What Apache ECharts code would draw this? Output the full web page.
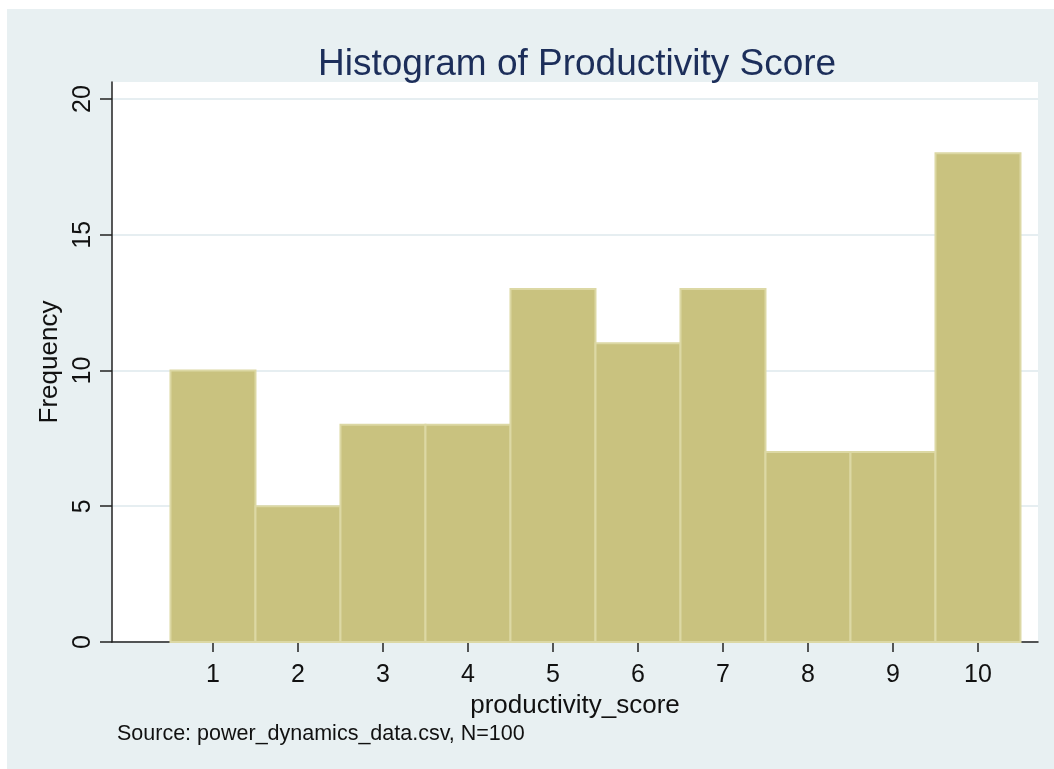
<!DOCTYPE html>
<html>
<head>
<meta charset="utf-8">
<script src="https://cdn.jsdelivr.net/npm/echarts@6/dist/echarts.min.js"></script>
<style>
  body { margin: 0; background: #ffffff; }
  #chart { position: absolute; left: 7px; top: 9px; width: 1047px; height: 760px; }
</style>
</head>
<body>
<div id="chart"></div>
<script>
window.addEventListener('load', () => {

const scores = [1, 2, 3, 4, 5, 6, 7, 8, 9, 10];
const freqs = [10, 5, 8, 8, 13, 11, 13, 7, 7, 18];
const xTicks = [1, 2, 3, 4, 5, 6, 7, 8, 9, 10];
const yTicks = [0, 5, 10, 15, 20];
const binWidth = 1;

const chart = echarts.init(document.getElementById('chart'));

const option = {
  backgroundColor: '#e8f0f2',
  animation: false,
  textStyle: { fontFamily: 'Liberation Sans, Arial, sans-serif' },
  title: {
    text: 'Histogram of Productivity Score',
    left: 306,
    top: 32,
    textStyle: { fontSize: 37, fontWeight: 'normal', color: '#1c2e5a' }
  },
  graphic: [{
    type: 'text',
    left: 110,
    top: 714,
    style: { text: 'Source: power_dynamics_data.csv, N=100', fill: '#111', font: '21.5px Liberation Sans, Arial, sans-serif' }
  }],
  grid: {
    left: 105, right: 16, top: 73, bottom: 127,
    show: true, backgroundColor: '#ffffff', borderWidth: 0
  },
  xAxis: {
    type: 'value',
    min: -0.188,
    max: 10.706,
    name: 'productivity_score',
    nameLocation: 'middle',
    nameGap: 47,
    nameTextStyle: { fontSize: 26, color: '#111' },
    axisLine: { show: true, onZero: false, lineStyle: { color: '#222', width: 1.5 } },
    axisTick: { show: true, length: 10, customValues: xTicks, lineStyle: { color: '#222', width: 1.5 } },
    axisLabel: { customValues: xTicks, fontSize: 25, color: '#111', margin: 21 },
    splitLine: { show: false }
  },
  yAxis: {
    type: 'value',
    min: 0,
    max: 20.626,
    name: 'Frequency',
    nameLocation: 'middle',
    nameGap: 42,
    nameTextStyle: { fontSize: 26, color: '#111' },
    axisLine: { show: true, onZero: false, lineStyle: { color: '#222', width: 1.5 } },
    axisTick: { show: true, length: 12, customValues: yTicks, lineStyle: { color: '#222', width: 1.5 } },
    axisLabel: { customValues: yTicks, fontSize: 25, color: '#111', rotate: 90, margin: 16 },
    splitLine: { show: true, lineStyle: { color: '#e6eef1', width: 2 } }
  },
  series: [{
    type: 'custom',
    data: scores.map((s, i) => [s, freqs[i]]),
    renderItem: (params, api) => {
      const x = api.value(0);
      const y = api.value(1);
      const p0 = api.coord([x - binWidth / 2, y]);
      const p1 = api.coord([x + binWidth / 2, 0]);
      return {
        type: 'rect',
        shape: { x: p0[0], y: p0[1], width: p1[0] - p0[0], height: p1[1] - p0[1] },
        style: { fill: '#c9c27f', stroke: '#dcd8a4', lineWidth: 2 }
      };
    }
  }]
};

chart.setOption(option);

});
</script>
</body>
</html>
